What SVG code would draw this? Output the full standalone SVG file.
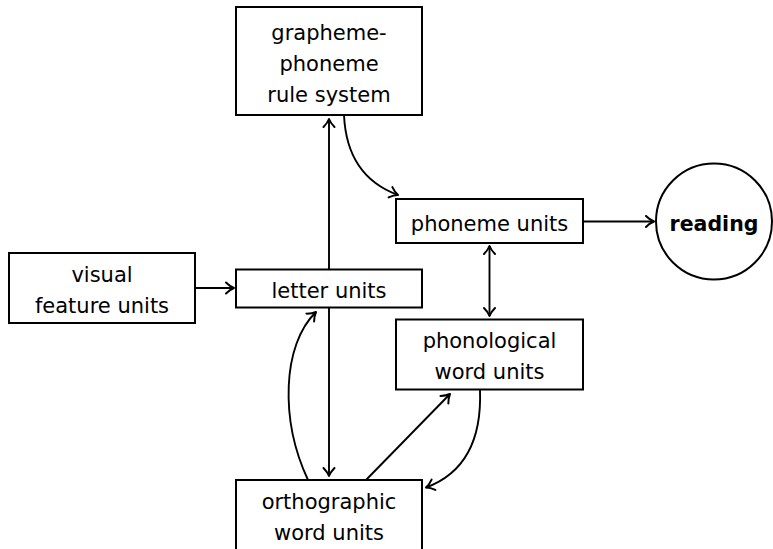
<svg xmlns="http://www.w3.org/2000/svg" width="773" height="549" viewBox="0 0 773 549">
<style>
.box{fill:#fff;stroke:#000;stroke-width:2}
.t{font-family:"DejaVu Sans",sans-serif;font-size:21px;text-anchor:middle;fill:#000}
.b{font-weight:bold;font-size:20.5px}
.c{fill:none;stroke:#000;stroke-width:1.9}
</style>
<defs>
<marker id="ah" markerUnits="userSpaceOnUse" viewBox="-10 -7 12 14" refX="0" refY="0" markerWidth="12" markerHeight="14" orient="auto-start-reverse">
<path d="M-8,-5.5 C-5,-2.5 -1.8,-0.7 0,0 C-1.8,0.7 -5,2.5 -8,5.5" fill="none" stroke="#000" stroke-width="2" stroke-linecap="round" stroke-linejoin="round"/>
</marker>
</defs>
<rect width="773" height="549" fill="#fff"/>
<g id="connectors">
<path class="c" d="M329,269 L329,119" marker-end="url(#ah)"/>
<path class="c" d="M344,115 C346,160 368,184 398,195" marker-end="url(#ah)"/>
<path class="c" d="M583,221.5 L654,221.5" marker-end="url(#ah)"/>
<path class="c" d="M195,288 L234,288" marker-end="url(#ah)"/>
<path class="c" d="M489.5,246 L489.5,316" marker-start="url(#ah)" marker-end="url(#ah)"/>
<path class="c" d="M329,308 L329,476" marker-end="url(#ah)"/>
<path class="c" d="M308,480 C280,420 282,345 316,312" marker-end="url(#ah)"/>
<path class="c" d="M366,480 L450,394" marker-end="url(#ah)"/>
<path class="c" d="M480,390 C482,445 460,475 426,487.5" marker-end="url(#ah)"/>
</g>
<g id="grapheme">
<rect class="box" x="236" y="7" width="186" height="108"/>
<text class="t" x="329" y="39.5">grapheme-</text>
<text class="t" x="329" y="70.5">phoneme</text>
<text class="t" x="329" y="101.5">rule system</text>
</g>
<g id="phoneme">
<rect class="box" x="396" y="199" width="187" height="44"/>
<text class="t" x="489.5" y="231">phoneme units</text>
</g>
<g id="reading">
<circle cx="714" cy="221.5" r="58" fill="#fff" stroke="#000" stroke-width="2"/>
<text class="t b" x="714" y="231">reading</text>
</g>
<g id="visual">
<rect class="box" x="9" y="253" width="186" height="70"/>
<text class="t" x="102" y="282">visual</text>
<text class="t" x="102" y="313">feature units</text>
</g>
<g id="letter">
<rect class="box" x="236" y="269.5" width="186" height="38"/>
<text class="t" x="329" y="297.5">letter units</text>
</g>
<g id="phonological">
<rect class="box" x="396" y="319.5" width="187" height="70"/>
<text class="t" x="489.5" y="347.5">phonological</text>
<text class="t" x="489.5" y="379">word units</text>
</g>
<g id="orthographic">
<rect class="box" x="236" y="480" width="186" height="74"/>
<text class="t" x="329" y="508.5">orthographic</text>
<text class="t" x="329" y="540">word units</text>
</g>
</svg>
